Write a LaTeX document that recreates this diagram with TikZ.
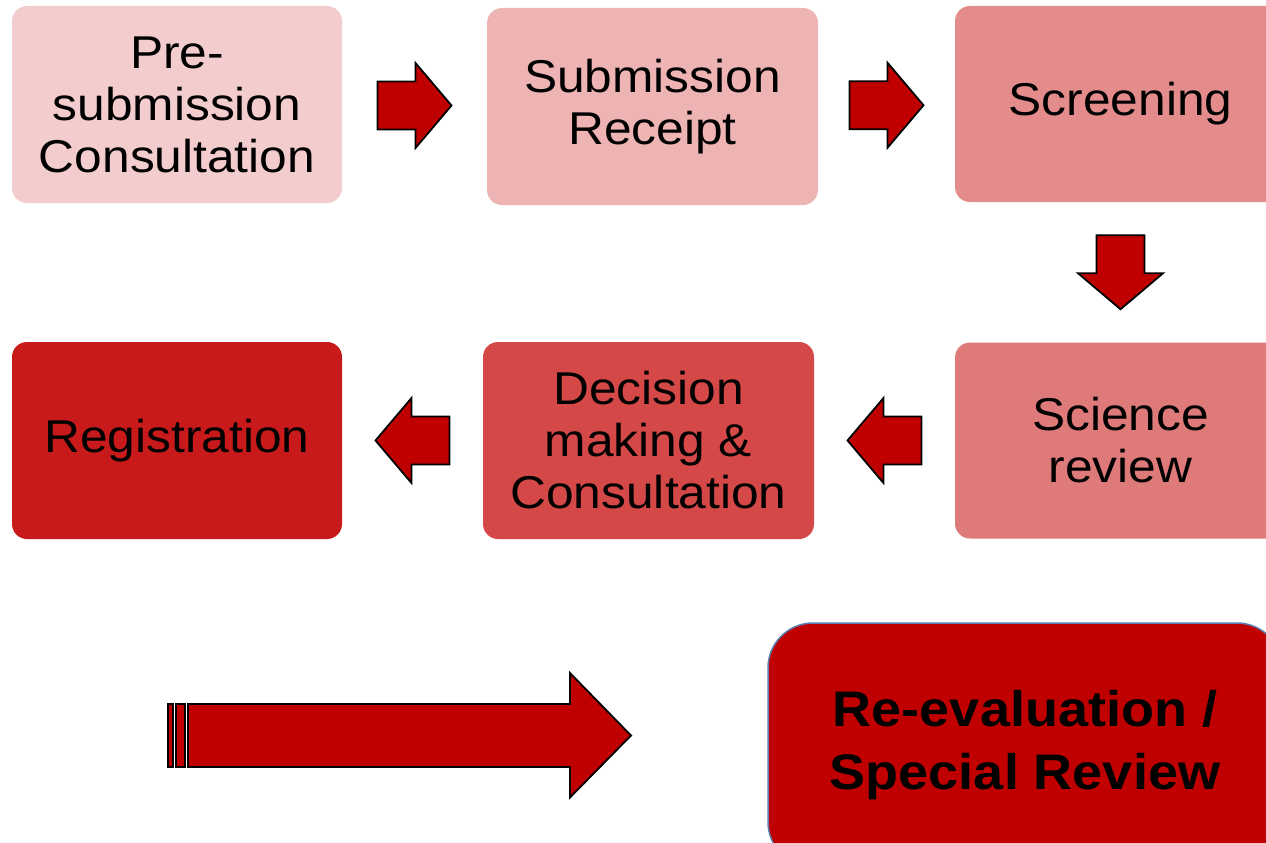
\documentclass[tikz,border=0pt]{standalone}
\usepackage{fontspec}
\setmainfont{Liberation Sans}[FakeStretch=1.08]
\usetikzlibrary{calc}
\definecolor{cA}{HTML}{F3CDCD}
\definecolor{cB}{HTML}{EEB4B4}
\definecolor{cC}{HTML}{E48C8C}
\definecolor{cD}{HTML}{DE7A7A}
\definecolor{cE}{HTML}{D44848}
\definecolor{cF}{HTML}{C81A1A}
\definecolor{dred}{HTML}{C00000}
\definecolor{bblue}{HTML}{5B7FB0}
\tikzset{
  stage/.style={rectangle, rounded corners=15pt, minimum width=331pt, minimum height=197pt,
    inner sep=0pt, align=center, font=\fontsize{46}{52}\selectfont, text=black},
  barrow/.style={fill=dred, draw=black, line width=1.8pt, line join=miter},
  blockarrow/.pic={\draw[barrow] (-37,-24) -- (1,-24) -- (1,-42.5) -- (37,0) -- (1,42.5) -- (1,24) -- (-37,24) -- cycle;}
}
\begin{document}
\begin{tikzpicture}[x=1pt,y=-1pt]
\useasboundingbox (0,0) rectangle (1266,843);
\clip (0,0) rectangle (1266,843);
\node[stage, fill=cA, minimum width=330pt] (b1) at (177,104.5) {Pre-\\submission\\Consultation};
\node[stage, fill=cB] (b2) at (652.5,106.5) {Submission\\Receipt};
\node[stage, fill=cC, minimum height=196pt] (b3) at (1120.5,104) {Screening};
\node[stage, fill=cD, minimum height=196pt] (b4) at (1120.5,440.5) {Science\\review};
\node[stage, fill=cE] (b5) at (648.5,440.5) {Decision\\making \&\\Consultation};
\node[stage, fill=cF, minimum width=330pt] (b6) at (177,440.5) {Registration};
\node[rectangle, rounded corners=45pt, minimum width=514pt, minimum height=244pt, inner sep=0pt,
  fill=dred, draw=bblue, line width=1.5pt, align=center,
  font=\fontsize{50}{63}\selectfont\bfseries] (b7) at (1025,745) {Re-evaluation /\\Special Review};
\pic at ($(b1.east)!0.5!(b2.west)$) {blockarrow};
\pic at ($(b2.east)!0.5!(b3.west)$) {blockarrow};
\pic[rotate=-90] at ($(b3.south)!0.5!(b4.north)$) {blockarrow};
\pic[rotate=180] at ($(b4.west)!0.5!(b5.east)$) {blockarrow};
\pic[rotate=180] at ($(b5.west)!0.5!(b6.east)$) {blockarrow};
% big arrow
\draw[barrow] (168,704) rectangle (173,767);
\draw[barrow] (176,704) rectangle (185,767);
\draw[barrow] (188,704) -- (570,704) -- (570,673) -- (631,735.5) -- (570,797.5) -- (570,767) -- (188,767) -- cycle;
\end{tikzpicture}
\end{document}
